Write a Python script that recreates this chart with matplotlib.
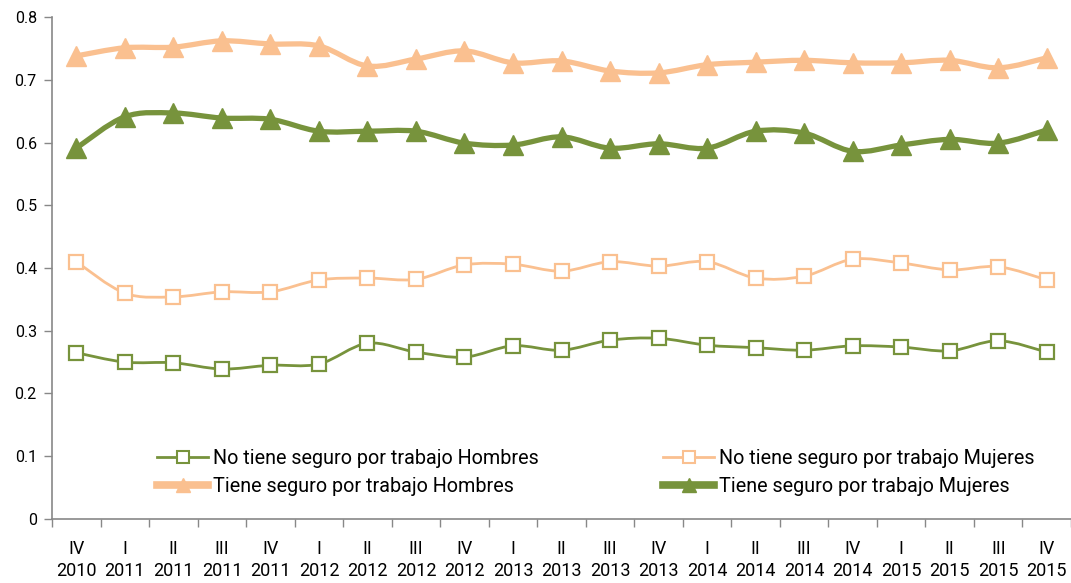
import matplotlib.pyplot as plt
import numpy as np
from matplotlib.path import Path
from matplotlib.patches import PathPatch
from matplotlib.lines import Line2D

plt.rcParams['font.family'] = ['Roboto', 'DejaVu Sans']

trimestres = ["IV", "I", "II", "III", "IV", "I", "II", "III", "IV", "I", "II", "III",
              "IV", "I", "II", "III", "IV", "I", "II", "III", "IV"]
anios = ["2010", "2011", "2011", "2011", "2011", "2012", "2012", "2012", "2012", "2013", "2013",
         "2013", "2013", "2014", "2014", "2014", "2014", "2015", "2015", "2015", "2015"]

no_seguro_hombres = [0.265, 0.250, 0.249, 0.239, 0.245, 0.247, 0.280, 0.266, 0.258, 0.276, 0.269,
                     0.285, 0.288, 0.277, 0.273, 0.269, 0.276, 0.274, 0.268, 0.284, 0.266]
no_seguro_mujeres = [0.410, 0.360, 0.354, 0.362, 0.362, 0.381, 0.384, 0.382, 0.405, 0.406, 0.395,
                     0.410, 0.403, 0.410, 0.384, 0.387, 0.414, 0.408, 0.397, 0.402, 0.381]
seguro_hombres = [0.738, 0.751, 0.752, 0.762, 0.757, 0.754, 0.722, 0.733, 0.746, 0.727, 0.730,
                  0.714, 0.711, 0.724, 0.728, 0.731, 0.727, 0.727, 0.731, 0.719, 0.735]
seguro_mujeres = [0.591, 0.641, 0.647, 0.639, 0.637, 0.618, 0.618, 0.618, 0.599, 0.596, 0.609,
                  0.591, 0.598, 0.591, 0.618, 0.615, 0.586, 0.596, 0.605, 0.599, 0.620]

naranja = "#FAC090"
verde = "#77933C"


def curva_suave(ax, x, y, color, lw):
    # curva tipo Excel (Catmull-Rom como Bezier)
    x = np.asarray(x, float)
    y = np.asarray(y, float)
    px = np.concatenate([[x[0]], x, [x[-1]]])
    py = np.concatenate([[y[0]], y, [y[-1]]])
    verts = [(x[0], y[0])]
    codes = [Path.MOVETO]
    for i in range(1, len(x)):
        c1 = (px[i] + (px[i + 1] - px[i - 1]) / 6, py[i] + (py[i + 1] - py[i - 1]) / 6)
        c2 = (px[i + 1] - (px[i + 2] - px[i]) / 6, py[i + 1] - (py[i + 2] - py[i]) / 6)
        verts += [c1, c2, (x[i], y[i])]
        codes += [Path.CURVE4] * 3
    ax.add_patch(PathPatch(Path(verts, codes), facecolor="none", edgecolor=color, lw=lw,
                           capstyle="round", joinstyle="round"))


fig = plt.figure(figsize=(10.71, 5.83), dpi=100)
ax = fig.add_axes([0.0486, 0.1098, 0.9514, 0.861])
x = np.arange(len(trimestres))

curva_suave(ax, x, no_seguro_hombres, verde, 2.0)
ax.plot(x, no_seguro_hombres, ls="none", marker="s", ms=9.5, mfc="white", mec=verde, mew=1.6)
curva_suave(ax, x, no_seguro_mujeres, naranja, 2.0)
ax.plot(x, no_seguro_mujeres, ls="none", marker="s", ms=9.5, mfc="white", mec=naranja, mew=1.6)
curva_suave(ax, x, seguro_hombres, naranja, 3.8)
ax.plot(x, seguro_hombres, ls="none", marker="^", ms=14, color=naranja)
curva_suave(ax, x, seguro_mujeres, verde, 3.8)
ax.plot(x, seguro_mujeres, ls="none", marker="^", ms=14, color=verde)

ax.set_xlim(-0.5, len(x) - 0.5)
ax.set_ylim(0, 0.8)
ax.set_yticks(np.arange(0, 0.81, 0.1))
ax.set_yticklabels(["0", "0.1", "0.2", "0.3", "0.4", "0.5", "0.6", "0.7", "0.8"])
ax.set_xticks(x)
ax.set_xticklabels([t + "\n" + a for t, a in zip(trimestres, anios)], linespacing=1.3)
ax.set_xticks(np.arange(-0.5, len(x), 1), minor=True)
ax.tick_params(axis="x", which="major", length=0, pad=15, labelsize=13)
ax.tick_params(axis="x", which="minor", length=6, color="#888888", width=1)
ax.tick_params(axis="y", length=6, color="#888888", width=1, labelsize=11.5, pad=5)

for s in ["top", "right"]:
    ax.spines[s].set_visible(False)
for s in ["left", "bottom"]:
    ax.spines[s].set_color("#888888")
    ax.spines[s].set_linewidth(1.2)

handles = [
    Line2D([], [], color=verde, lw=2.0, marker="s", ms=8, mfc="white", mec=verde, mew=1.5),
    Line2D([], [], color=naranja, lw=5.5, marker="^", ms=10),
    Line2D([], [], color=naranja, lw=2.0, marker="s", ms=8, mfc="white", mec=naranja, mew=1.5),
    Line2D([], [], color=verde, lw=5.5, marker="^", ms=10),
]
labels = ["No tiene seguro por trabajo Hombres", "Tiene seguro por trabajo Hombres",
          "No tiene seguro por trabajo Mujeres", "Tiene seguro por trabajo Mujeres"]
ax.legend(handles, labels, ncol=2, loc="upper left", bbox_to_anchor=(0.103, 0.14),
          frameon=False, fontsize=14.2, handlelength=2.6, handletextpad=0.25,
          columnspacing=6.3, labelspacing=0.45, borderpad=0, borderaxespad=0)

fig.savefig("out.png", dpi=100)
